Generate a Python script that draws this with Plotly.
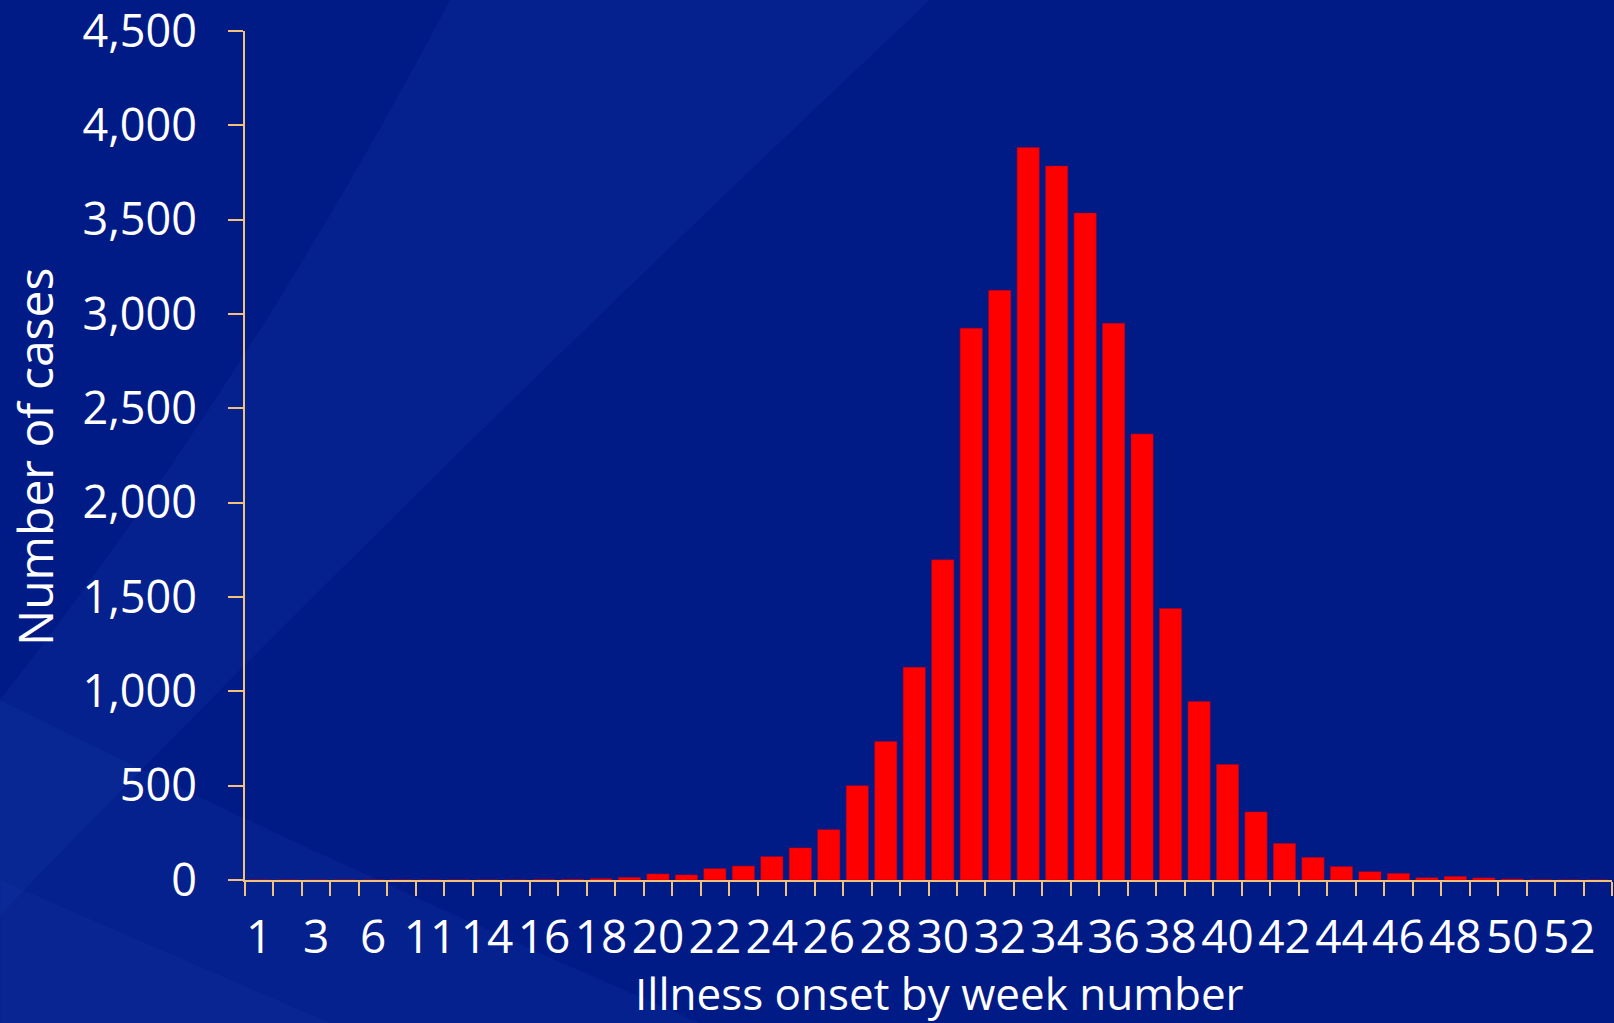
import plotly.graph_objects as go

# Week of illness onset (category axis) and weekly case counts
weeks = ["1", "2", "3", "5", "6", "10", "11", "13",
         "14", "15", "16", "17", "18", "19", "20", "21", "22", "23",
         "24", "25", "26", "27", "28", "29", "30", "31", "32", "33",
         "34", "35", "36", "37", "38", "39", "40", "41", "42", "43",
         "44", "45", "46", "47", "48", "49", "50", "51", "52", "53"]

cases = [0, 0, 0, 0, 0, 0, 0, 0,
         0, 0, 2, 3, 7, 14, 32, 27, 60, 74,
         124, 170, 267, 500, 734, 1128, 1697, 2925, 3126, 3883,
         3784, 3535, 2951, 2364, 1439, 946, 612, 361, 194, 120,
         71, 44, 35, 12, 19, 11, 5, 1, 0, 0]

# Only every other week is labelled on the axis
tick_text = [w if i % 2 == 0 else "" for i, w in enumerate(weeks)]

y_ticks = [0, 500, 1000, 1500, 2000, 2500, 3000, 3500, 4000, 4500]

x_title = "Illness onset by week number"
y_title = "Number of cases"

AXIS_COLOR = "#F2C27C"
BG = "#011b86"
FAMILY = "Open Sans"

W, H = 1614, 1023
L, R, T, B = 245, 2, 31, 143


def px_to_paper(x, y):
    """Convert page pixel coordinates into paper coordinates of the plot area."""
    pw = W - L - R
    ph = H - T - B
    return (x - L) / pw, (H - B - y) / ph


def path_from_pixels(cmds):
    out = []
    for c in cmds:
        if isinstance(c, str):
            out.append(c)
        else:
            xp, yp = px_to_paper(*c)
            out.append(f"{xp:.4f},{yp:.4f}")
    return " ".join(out)


# Soft lighter diagonal sweeps in the background
swooshes = [
    (["M", (450, 0), "L", (930, 0), "Q", (420, 480), (0, 915), "L", (0, 700),
      "Q", (250, 380), (450, 0), "Z"], "rgba(40,80,200,0.12)"),
    (["M", (0, 1023), "L", (0, 700), "Q", (300, 850), (700, 1023), "Z"],
     "rgba(45,85,195,0.12)"),
    (["M", (0, 1023), "L", (0, 880), "L", (330, 1023), "Z"],
     "rgba(50,90,200,0.08)"),
]

shapes = [
    dict(type="path", xref="paper", yref="paper", layer="below",
         path=path_from_pixels(p), fillcolor=c, line=dict(width=0))
    for p, c in swooshes
]

xt_x, xt_y = px_to_paper(939, 993)
yt_x, yt_y = px_to_paper(34, 457)

annotations = [
    dict(text=x_title, xref="paper", yref="paper", x=xt_x, y=xt_y,
         xanchor="center", yanchor="middle", showarrow=False,
         font=dict(family=FAMILY, size=44, color="white")),
    dict(text=y_title, xref="paper", yref="paper", x=yt_x, y=yt_y,
         xanchor="center", yanchor="middle", showarrow=False, textangle=-90,
         font=dict(family=FAMILY, size=48, color="white")),
]

fig = go.Figure(
    go.Bar(
        x=weeks,
        y=cases,
        marker=dict(color="#FF0000", line=dict(color="rgba(170,0,40,0.7)", width=0.8)),
        width=0.78,
    )
)

fig.update_layout(
    width=W,
    height=H,
    margin=dict(l=L, r=R, t=T, b=B),
    paper_bgcolor=BG,
    plot_bgcolor="rgba(0,0,0,0)",
    font=dict(family=FAMILY, size=46, color="white"),
    showlegend=False,
    shapes=shapes,
    annotations=annotations,
)

fig.update_xaxes(
    type="category",
    range=[-0.5, len(weeks) - 0.5],
    automargin=False,
    tickmode="array",
    tickvals=weeks,
    ticktext=tick_text,
    tickangle=0,
    tickson="boundaries",
    ticks="outside",
    ticklen=14,
    tickwidth=2,
    tickcolor=AXIS_COLOR,
    showline=True,
    linecolor=AXIS_COLOR,
    linewidth=2,
    showgrid=False,
    zeroline=False,
    tickfont=dict(family=FAMILY, size=46, color="white"),
    ticklabelstandoff=16,
    ticklabeloverflow="allow",
)

fig.update_yaxes(
    range=[0, 4500],
    automargin=False,
    tickmode="array",
    tickvals=y_ticks,
    tickformat=",",
    ticks="outside",
    ticklen=15,
    tickwidth=2,
    tickcolor=AXIS_COLOR,
    showline=True,
    linecolor=AXIS_COLOR,
    linewidth=2,
    showgrid=False,
    zeroline=False,
    tickfont=dict(family=FAMILY, size=45, color="white"),
    ticklabelstandoff=22,
    ticklabeloverflow="allow",
)

fig.write_html("out.html")
